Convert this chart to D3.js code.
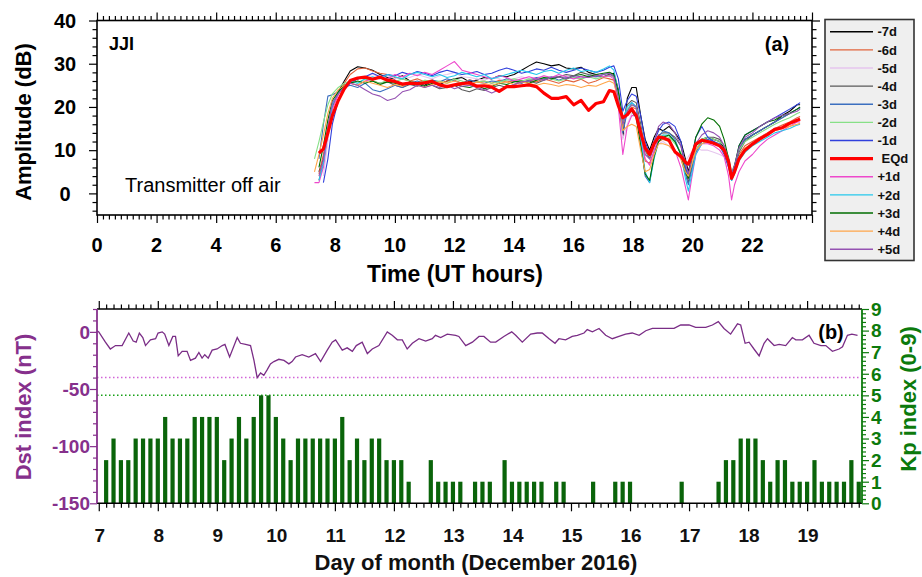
<!DOCTYPE html>
<html>
<head>
<meta charset="utf-8">
<script src="https://cdn.jsdelivr.net/npm/d3@7"></script>
<style>
  body { margin: 0; background: #fff; }
  svg { display: block; }
  text { font-family: "Liberation Sans", Arial, Helvetica, sans-serif; }
</style>
</head>
<body>
<svg id="chart" width="922" height="577"></svg>
<script>
// ---------- Panel (a): JJI VLF amplitude, UT hours ----------
const hourGrid = [
  7.3, 7.45, 7.6, 7.75, 7.9, 8.1, 8.3,
  8.5, 8.75, 9.0, 9.25, 9.5, 9.75, 10.0, 10.25, 10.5, 10.75, 11.0, 11.25, 11.5, 11.75,
  12.0, 12.25, 12.5, 12.75, 13.0, 13.25, 13.5, 13.75, 14.0, 14.25, 14.5, 14.75,
  15.0, 15.25, 15.5, 15.75, 16.0, 16.25, 16.5, 16.75, 17.0,
  17.2, 17.35, 17.5, 17.65, 17.8, 17.95, 18.1, 18.25, 18.4, 18.55, 18.7, 18.85,
  19.0, 19.2, 19.4, 19.6, 19.75, 19.85, 19.95, 20.1, 20.3, 20.5, 20.7, 20.9,
  21.05, 21.2, 21.3, 21.4, 21.55, 21.75, 22.0, 22.25, 22.5, 22.75, 23.0, 23.25, 23.5, 23.6
];

const ampM7d = [
  null, 5.0, 8.0, 14.5, 20.0, 23.5, 26.0,
  28.3, 29.3, 29.0, 28.5, 27.5, 26.8, 26.5, 27.2, 26.0, 25.5, 25.0, 26.0, 25.2, 26.0, 26.5, 26.8, 25.8, 26.2, 26.8, 26.5,
  27.2, 27.0, 27.5, 28.5, 29.5, 30.4, 30.0, 29.5, 29.8, 29.0, 28.8, 29.2, 28.0, 27.5, 27.0,
  27.5, 27.8, 24.0, 13.0, 22.0, 24.5, 24.5, 18.0, 12.5, 10.0, 13.0, 15.0, 14.5, 15.5, 14.0, 12.0, 8.0, 5.0, 8.0, 11.0,
  12.5, 13.0, 12.5, 12.0, 10.5, 8.0, 4.5, 6.0, 10.0, 12.5, 13.5, 14.5, 15.5, 16.5, 18.0, 19.0, 20.5, 20.5
];
const ampM6d = [
  null, 4.5, 9.0, 15.5, 20.5, 23.0, 25.5,
  27.5, 28.8, 29.0, 28.3, 27.8, 27.5, 26.8, 26.5, 26.0, 26.5, 25.8, 26.3, 25.5, 26.0, 26.2, 25.5, 26.3, 25.8, 26.0, 25.5,
  26.2, 25.8, 26.0, 25.5, 26.3, 25.8, 26.5, 26.0, 25.5, 26.2, 25.8, 26.4, 25.5, 26.0, 26.8,
  26.5, 26.2, 22.0, 15.5, 18.5, 20.0, 19.5, 14.0, 7.5, 7.0, 10.0, 12.0, 12.5, 12.0, 10.0, 8.0, 4.5, 3.5, 6.0, 9.5,
  11.5, 12.0, 11.5, 11.0, 10.0, 7.5, 4.0, 5.5, 9.0, 11.0, 12.0, 13.0, 14.0, 15.0, 15.8, 16.5, 17.5, 17.8
];
const ampM5d = [
  null, null, 4.0, 12.0, 19.5, 23.0, 24.5,
  25.5, 26.5, 27.0, 27.5, 27.0, 27.3, 26.5, 27.0, 26.8, 27.5, 27.0, 26.5, 27.2, 27.5, 28.0, 27.0, 26.8, 26.5, 26.2, 26.8,
  26.5, 26.0, 26.5, 27.0, 26.5, 26.8, 27.2, 26.5, 26.8, 27.2, 27.0, 26.6, 27.0, 26.8, 27.2,
  27.0, 27.5, 23.0, 12.5, 16.0, 18.5, 18.0, 13.5, 9.5, 8.0, 10.0, 11.5, 12.0, 11.0, 9.5, 8.0, 7.5, 8.5, 9.5, 10.5,
  10.0, 10.0, 9.5, 9.0, 8.5, 7.5, 5.0, 6.5, 8.5, 10.0, 11.5, 12.5, 13.5, 14.5, 15.0, 16.0, 16.5, 16.8
];
const ampM4d = [
  null, 3.0, 7.0, 14.0, 20.0, 23.0, 25.0,
  26.0, 26.5, 27.0, 26.0, 25.5, 25.8, 25.0, 24.5, 25.2, 24.8, 25.5, 25.0, 24.2, 24.5, 25.0, 24.0, 23.5, 24.2, 23.8, 24.5,
  25.0, 24.5, 25.2, 25.8, 26.0, 25.5, 26.2, 26.8, 27.0, 27.5, 27.2, 28.0, 27.5, 27.2, 27.0,
  27.5, 27.2, 22.5, 16.5, 20.5, 21.5, 21.0, 16.0, 10.0, 8.0, 11.0, 13.5, 14.0, 14.0, 13.0, 11.0, 6.0, 2.5, 5.5, 10.0,
  12.0, 13.0, 13.0, 12.5, 11.0, 7.5, 3.0, 5.0, 9.5, 12.0, 13.5, 14.5, 15.5, 16.5, 17.5, 18.5, 19.5, 19.8
];
const ampM3d = [
  null, 8.0, 16.0, 22.5, 22.8, 23.5, 24.5,
  25.0, 24.5, 25.5, 24.0, 23.5, 24.2, 25.0, 24.5, 25.5, 26.0, 25.5, 26.2, 25.8, 26.5, 26.0, 25.5, 26.2, 25.8, 25.5, 26.0,
  25.8, 26.5, 26.0, 25.5, 26.2, 26.8, 26.5, 27.0, 26.2, 26.8, 27.0, 26.5, 27.2, 27.0, 27.5,
  27.8, 27.0, 21.0, 14.0, 19.0, 21.0, 20.0, 12.0, 4.0, 2.5, 9.0, 13.0, 14.5, 14.0, 12.5, 9.0, 4.5, 2.0, 5.0, 9.5,
  12.0, 12.5, 12.0, 11.5, 10.0, 7.0, 3.0, 5.5, 10.0, 12.5, 13.5, 14.5, 15.5, 16.5, 17.5, 18.5, 19.5, 19.8
];
const ampM2d = [
  8.0, 12.0, 16.5, 20.5, 23.0, 24.5, 25.5,
  26.0, 25.5, 26.5, 26.0, 25.5, 26.2, 25.8, 26.5, 26.0, 25.5, 26.2, 25.8, 26.0, 25.5, 26.5, 26.0, 25.2, 25.8, 26.0, 25.5,
  25.8, 26.2, 26.5, 26.0, 26.5, 26.2, 26.8, 26.5, 26.0, 26.5, 26.8, 26.5, 27.0, 26.5, 27.0,
  27.2, 27.0, 22.5, 16.0, 19.5, 20.5, 20.0, 15.0, 10.0, 8.5, 11.0, 13.0, 13.5, 13.0, 11.5, 9.5, 6.0, 4.0, 6.5, 10.0,
  12.5, 13.0, 12.5, 12.0, 11.0, 8.5, 5.0, 6.5, 10.0, 12.0, 13.0, 14.0, 15.0, 16.0, 16.8, 17.5, 18.5, 18.8
];
const ampM1d = [
  null, null, 2.5, 8.0, 16.0, 21.5, 24.0,
  25.5, 26.5, 27.0, 27.8, 27.0, 27.5, 27.2, 28.0, 27.5, 28.2, 27.8, 27.2, 28.0, 28.5, 28.0, 27.5, 27.8, 28.2, 27.5, 27.8,
  28.5, 29.0, 28.5, 27.8, 28.2, 28.8, 28.5, 29.2, 28.5, 28.0, 28.5, 29.0, 28.5, 28.0, 28.5,
  29.2, 29.5, 26.5, 19.0, 21.5, 23.0, 22.5, 18.0, 12.0, 9.0, 12.0, 14.5, 16.0, 16.5, 15.5, 12.0, 6.0, 4.0, 8.0, 13.0,
  15.5, 13.0, 12.0, 11.0, 9.0, 6.0, 3.0, 6.0, 11.0, 13.5, 14.5, 15.5, 16.5, 17.5, 18.5, 19.5, 20.5, 21.0
];
const ampEQd = [
  null, 9.3, 10.3, 14.0, 18.0, 21.5, 24.2,
  26.1, 26.7, 26.9, 26.4, 26.9, 26.2, 25.9, 25.3, 25.5, 25.4, 25.6, 25.9, 25.1, 24.7, 25.1, 25.4, 25.6, 24.8, 24.9, 24.6,
  23.6, 24.7, 24.7, 24.9, 25.1, 24.7, 23.2, 22.0, 22.0, 22.4, 20.5, 21.5, 19.2, 20.8, 21.2,
  23.8, 23.5, 20.3, 17.5, 18.2, 19.5, 18.0, 14.0, 10.5, 9.0, 11.5, 13.0, 12.9, 12.3, 9.6, 8.6, 7.2, 6.8, 8.5, 11.4,
  12.3, 12.0, 11.6, 11.0, 10.0, 7.3, 3.5, 5.0, 8.0, 10.0, 11.4, 12.6, 13.6, 14.8, 15.2, 16.2, 16.9, 17.2
];
const ampP1d = [
  2.5, 2.5, 6.0, 14.0, 19.5, 23.0, 24.5,
  25.5, 25.0, 26.0, 26.5, 27.0, 26.5, 27.5, 27.0, 27.8, 27.2, 28.0, 27.5, 28.5, 29.5, 30.5, 28.5, 28.0, 27.5, 27.0, 26.5,
  27.2, 26.8, 26.0, 26.5, 27.0, 26.5, 27.2, 26.8, 27.5, 27.0, 26.5, 27.0, 26.8, 27.5, 27.0,
  27.2, 26.5, 20.0, 9.0, 15.5, 18.0, 18.0, 13.0, 8.0, 6.5, 10.0, 12.5, 13.0, 12.5, 10.0, 6.0, 1.5, -1.5, 3.0, 9.0,
  11.5, 11.5, 11.0, 10.0, 8.5, 4.0, -1.5, 2.0, 5.0, 7.5, 9.0, 11.0, 12.5, 13.5, 14.5, 15.5, 16.5, 16.5
];
const ampP2d = [
  null, 3.0, 7.0, 14.5, 20.5, 23.5, 25.0,
  26.0, 25.5, 26.5, 27.0, 26.5, 27.5, 27.0, 26.5, 27.5, 28.0, 27.5, 27.0, 27.5, 26.8, 27.2, 28.0, 27.5, 27.0, 27.5, 26.5,
  27.0, 27.5, 28.0, 28.5, 28.0, 27.5, 28.2, 28.5, 27.8, 28.5, 29.0, 28.2, 28.5, 28.0, 28.8,
  29.5, 28.5, 23.5, 17.0, 20.0, 21.0, 20.0, 13.0, 5.0, 2.5, 8.0, 12.0, 13.5, 13.5, 12.0, 9.0, 3.5, 0.5, 4.0, 9.0,
  11.5, 12.0, 11.5, 11.0, 9.5, 6.5, 3.0, 4.5, 7.5, 9.5, 11.0, 12.0, 13.0, 14.0, 14.5, 15.0, 15.8, 16.0
];
const ampP3d = [
  null, 6.0, 11.0, 17.0, 21.5, 23.5, 25.0,
  25.5, 26.0, 25.5, 26.0, 25.2, 25.8, 25.5, 25.0, 25.8, 25.2, 24.8, 25.5, 25.0, 24.5, 25.2, 24.8, 24.5, 25.0, 24.2, 24.8,
  25.5, 25.2, 25.8, 26.0, 25.5, 26.2, 26.8, 26.5, 27.0, 26.5, 27.2, 27.5, 27.0, 27.5, 27.8,
  28.0, 27.5, 23.5, 17.5, 18.5, 19.0, 17.5, 11.0, 4.5, 3.0, 8.5, 12.0, 13.0, 13.5, 12.0, 9.0, 5.0, 3.5, 7.5, 13.0,
  16.0, 17.5, 17.0, 15.5, 12.5, 8.0, 4.0, 6.5, 11.0, 13.5, 14.5, 15.5, 16.5, 17.0, 18.0, 18.5, 19.5, 20.0
];
const ampP4d = [
  5.0, 9.0, 13.5, 18.5, 22.0, 24.0, 25.0,
  25.5, 25.0, 26.0, 25.5, 25.0, 24.5, 25.2, 24.8, 25.5, 25.0, 24.5, 25.2, 25.8, 25.5, 26.0, 25.5, 25.2, 25.8, 25.5, 25.0,
  25.5, 25.8, 25.2, 25.8, 25.5, 25.0, 25.5, 25.2, 24.8, 25.2, 25.0, 24.5, 25.0, 24.8, 25.5,
  26.0, 25.5, 22.0, 14.5, 15.5, 16.0, 15.5, 10.0, 5.0, 5.5, 9.0, 11.5, 11.5, 11.0, 9.5, 8.0, 5.0, 4.0, 6.5, 10.0,
  11.5, 12.0, 11.5, 11.0, 10.0, 7.0, 3.5, 5.0, 8.5, 10.5, 11.5, 12.5, 13.5, 14.5, 15.0, 15.5, 16.0, 16.2
];
const ampP5d = [
  null, 4.0, 8.0, 15.5, 21.0, 23.0, 24.5,
  25.5, 25.0, 24.0, 23.0, 22.5, 21.5, 22.0, 23.5, 24.0, 25.0, 24.5, 25.0, 24.5, 25.0, 24.2, 24.8, 25.0, 24.5, 24.0, 23.2,
  24.0, 24.5, 25.2, 25.8, 26.0, 26.5, 26.2, 26.8, 27.0, 26.5, 27.2, 27.0, 26.8, 27.2, 27.5,
  27.8, 27.0, 22.0, 16.0, 19.0, 20.5, 20.0, 14.5, 9.0, 8.0, 12.0, 15.5, 16.5, 16.0, 14.0, 11.0, 7.0, 4.5, 7.5, 11.5,
  13.5, 14.5, 14.0, 13.0, 11.0, 8.0, 4.5, 6.5, 10.5, 13.0, 14.0, 15.5, 16.5, 17.5, 18.0, 18.5, 19.0, 19.5
];

const seriesLabels = ["-7d", "-6d", "-5d", "-4d", "-3d", "-2d", "-1d", "EQd", "+1d", "+2d", "+3d", "+4d", "+5d"];
const seriesColors = ["#000000", "#e2643c", "#e6c6ee", "#5a5a5a", "#3b6fbf", "#86e086", "#2f3fdc",
                      "#ff0000", "#ee48cc", "#26c8ec", "#006e00", "#ffa64a", "#9552b2"];
const seriesValues = [ampM7d, ampM6d, ampM5d, ampM4d, ampM3d, ampM2d, ampM1d,
                      ampEQd, ampP1d, ampP2d, ampP3d, ampP4d, ampP5d];

const hourTicks = [0, 2, 4, 6, 8, 10, 12, 14, 16, 18, 20, 22];
const ampTicks = [0, 10, 20, 30, 40];

// ---------- Panel (b): Dst and Kp, 7-19 December 2016 ----------
// Dst: hours counted from 00 UT on 7 December
const dstHour = [
  -0.7, 0.0, 2.7, 4.7, 6.8, 9.5, 12.2, 14.0, 15.2, 16.5, 17.9, 19.0, 21.0, 23.1, 24.1, 25.8, 26.8, 28.5, 30.1, 31.2,
  32.3, 33.9, 35.9, 37.3, 39.3, 40.7, 42.0, 43.1, 44.5, 46.1, 48.1, 50.2, 51.3, 53.2, 56.3, 57.6, 59.7, 61.7, 63.1, 64.4,
  65.8, 67.1, 68.5, 69.8, 71.2, 73.2, 75.3, 77.3, 78.6, 80.0, 82.7, 85.4, 88.1, 90.2, 92.9, 94.9, 96.3, 99.0, 101.0, 103.1,
  104.7, 107.1, 109.2, 111.2, 113.9, 117.3, 119.3, 121.4, 123.4, 125.4, 127.5, 130.2, 132.9, 135.6, 136.9, 139.0, 141.7, 145.1, 146.4, 149.2,
  151.9, 154.6, 156.6, 159.3, 161.4, 164.7, 167.9, 169.5, 172.2, 175.6, 178.3, 180.3, 183.1, 185.5, 187.1, 189.8, 192.5, 194.6, 197.3, 198.6,
  200.7, 203.4, 206.1, 208.8, 211.5, 214.2, 216.9, 219.7, 222.4, 225.1, 227.8, 230.5, 233.9, 236.6, 240.0, 242.7, 246.8, 249.5, 251.9, 254.2,
  256.9, 259.7, 261.0, 262.8, 264.4, 266.4, 268.5, 270.5, 271.9, 274.6, 276.6, 279.3, 282.0, 283.4, 286.1, 288.8, 290.8, 293.6, 295.6, 298.3,
  301.0, 302.4, 304.4, 306.2, 308.5
];
const dstValue = [
  1, 0, -9, -15, -12, -12, -1, -8, -9, -1, -5, -12, -7, -6, -1, 0, -2, -12, -4, -4,
  -21, -17, -17, -25, -23, -18, -23, -20, -23, -16, -15, -12, -11, -22, -5, -10, -11, -12, -25, -40,
  -36, -38, -33, -28, -26, -24, -25, -28, -26, -22, -20, -22, -19, -26, -16, -9, -7, -16, -14, -17,
  -12, -9, -19, -15, -12, 0, -3, -7, -7, -15, -10, -6, -8, -6, -3, -5, -2, -3, -4, -12,
  -9, -4, -4, -9, -9, -4, 0, -3, -9, -2, -1, -1, -6, -10, -6, -7, -4, -3, -1, 2,
  0, 3, -3, -6, -4, -2, -1, -3, 1, 3, 3, 3, 3, 6, 6, 4, 4, 6, 9, 3,
  -2, 7, 6, -10, -9, -15, -21, -10, -6, -12, -11, -12, -5, -7, -7, -3, -10, -12, -12, -17,
  -15, -13, -3, -2, -3
];
// Kp: 3-hourly values from 00 UT on 7 December
const kpValues = [
  2, 3, 2, 2, 3, 3, 3, 3,   4, 3, 3, 3, 4, 4, 4, 4,   2, 3, 4, 3, 4, 5, 5, 4,
  3, 2, 3, 3, 3, 3, 3, 3,   4, 2, 3, 2, 3, 3, 2, 2,   2, 1, 0, 0, 2, 1, 1, 1,
  1, 0, 1, 1, 1, 0, 2, 1,   1, 1, 1, 1, 0, 1, 1, 0,   0, 0, 1, 0, 0, 1, 1, 1,
  0, 0, 0, 0, 0, 0, 1, 0,   0, 0, 0, 1, 2, 2, 3, 3,   3, 2, 1, 2, 2, 1, 1, 1,
  2, 1, 1, 1, 1, 2, 1
];
const dayTicks = [7, 8, 9, 10, 11, 12, 13, 14, 15, 16, 17, 18, 19];
const dstTicks = [-150, -100, -50, 0];
const kpTicks = [0, 1, 2, 3, 4, 5, 6, 7, 8, 9];
const dstThreshold = -40;
const kpThreshold = 5;

// ---------- Drawing ----------
const svg = d3.select("#chart");
const DST_COLOR = "#86308c";
const DST_LINE = "#7a2d86";
const KP_COLOR = "#0c7a0c";
const BAR_COLOR = "#0a640a";

const xA = d3.scaleLinear().domain([0, 24]).range([97, 812]);
const yA = d3.scaleLinear().domain([-5, 40]).range([215, 20.5]);
const xD = d3.scaleLinear().domain([6.97, 19.93]).range([97, 862]);
const yDst = d3.scaleLinear().domain([-150, 20]).range([503.3, 309]);
const yKp = d3.scaleLinear().domain([0, 9]).range([503.3, 309]);

function tickRow(sel, axisGen, values, size, color) {
  sel.call(axisGen.tickValues(values).tickSize(size).tickSizeOuter(0).tickFormat(""));
  sel.select(".domain").remove();
  sel.selectAll(".tick line").attr("stroke", color).attr("stroke-width", 1.2);
}
function range(a, b, step) {
  const out = [];
  const n = Math.round((b - a) / step);
  for (let i = 0; i <= n; i++) out.push(+(a + i * step).toFixed(4));
  return out;
}
function without(list, majors) {
  return list.filter(v => !majors.some(m => Math.abs(m - v) < 1e-6));
}

// ----- panel (a) -----
const pa = svg.append("g");
svg.append("defs").append("clipPath").attr("id", "clipA")
  .append("rect").attr("x", xA(0)).attr("y", yA(40)).attr("width", xA(24) - xA(0)).attr("height", yA(-5) - yA(40));

const hourMajor = hourTicks.concat([24]);
const hourMinor = without(range(0, 24, 0.2), hourMajor);
const ampMajor = ampTicks;
const ampMinor = without(range(-4, 38, 2), ampMajor);

tickRow(pa.append("g").attr("transform", `translate(0,${yA(-5)})`), d3.axisBottom(xA), hourMinor, 4.5, "#000");
tickRow(pa.append("g").attr("transform", `translate(0,${yA(-5)})`), d3.axisBottom(xA), hourMajor, 8, "#000");
tickRow(pa.append("g").attr("transform", `translate(0,${yA(40)})`), d3.axisTop(xA), hourMinor, 4.5, "#000");
tickRow(pa.append("g").attr("transform", `translate(0,${yA(40)})`), d3.axisTop(xA), hourMajor, 8, "#000");
tickRow(pa.append("g").attr("transform", `translate(${xA(0)},0)`), d3.axisLeft(yA), ampMinor, 4.5, "#000");
tickRow(pa.append("g").attr("transform", `translate(${xA(0)},0)`), d3.axisLeft(yA), ampMajor, 8, "#000");
tickRow(pa.append("g").attr("transform", `translate(${xA(24)},0)`), d3.axisRight(yA), ampMinor, 4.5, "#000");
tickRow(pa.append("g").attr("transform", `translate(${xA(24)},0)`), d3.axisRight(yA), ampMajor, 8, "#000");

// amplitude curves
const lineA = d3.line()
  .defined(d => d[1] !== null)
  .x(d => xA(d[0])).y(d => yA(d[1]));
const curves = pa.append("g").attr("clip-path", "url(#clipA)");
const order = [0, 1, 2, 3, 4, 5, 6, 8, 9, 10, 11, 12, 7];
order.forEach(i => {
  const pts = hourGrid.map((h, k) => [h, seriesValues[i][k] === undefined ? null : seriesValues[i][k]]);
  curves.append("path")
    .attr("d", lineA(pts))
    .attr("fill", "none")
    .attr("stroke", seriesColors[i])
    .attr("stroke-width", seriesLabels[i] === "EQd" ? 3.2 : 1.1)
    .attr("stroke-linejoin", "round");
});

pa.append("rect")
  .attr("x", xA(0)).attr("y", yA(40))
  .attr("width", xA(24) - xA(0)).attr("height", yA(-5) - yA(40))
  .attr("fill", "none").attr("stroke", "#000").attr("stroke-width", 1.6);

pa.selectAll("text.xl").data(hourTicks).join("text")
  .attr("x", d => xA(d)).attr("y", 252)
  .attr("text-anchor", "middle").attr("font-size", 20).attr("font-weight", "bold")
  .text(d => d);
pa.selectAll("text.yl").data(ampTicks).join("text")
  .attr("x", 65).attr("y", d => yA(d)).attr("dy", "0.36em")
  .attr("text-anchor", "middle").attr("font-size", 20).attr("font-weight", "bold")
  .text(d => d);

pa.append("text").attr("x", 455).attr("y", 282).attr("text-anchor", "middle")
  .attr("font-size", 23).attr("font-weight", "bold").text("Time (UT hours)");
pa.append("text").attr("transform", "translate(31,122) rotate(-90)").attr("text-anchor", "middle")
  .attr("font-size", 22).attr("font-weight", "bold").text("Amplitude (dB)");
pa.append("text").attr("x", 109).attr("y", 50).attr("font-size", 18).attr("font-weight", "bold").text("JJI");
pa.append("text").attr("x", 777).attr("y", 51).attr("text-anchor", "middle")
  .attr("font-size", 20).attr("font-weight", "bold").text("(a)");
pa.append("text").attr("x", 125).attr("y", 192).attr("font-size", 20).text("Transmitter off air");

// legend
const lg = svg.append("g");
lg.append("rect").attr("x", 825).attr("y", 19.5).attr("width", 89).attr("height", 241)
  .attr("fill", "#efefef").attr("stroke", "#333").attr("stroke-width", 1.6);
seriesLabels.forEach((lab, i) => {
  const y = 31.7 + i * 18.13;
  lg.append("line").attr("x1", 830).attr("x2", 873).attr("y1", y).attr("y2", y)
    .attr("stroke", seriesColors[i]).attr("stroke-width", lab === "EQd" ? 3.2 : 1.4);
  lg.append("text").attr("x", lab === "EQd" ? 881.5 : 877.5).attr("y", y).attr("dy", "0.36em")
    .attr("font-size", 13).attr("font-weight", "bold").attr("fill", "#111").text(lab);
});

// ----- panel (b) -----
const pb = svg.append("g");
const dayMajor = dayTicks;
const dayMinor = without(range(7, 19.875, 0.125), dayMajor);
const dstMinor = without(range(-150, 20, 10), dstTicks);
const kpMinor = without(range(0, 9, 0.2), kpTicks);

tickRow(pb.append("g").attr("transform", `translate(0,${yDst(-150)})`), d3.axisBottom(xD), dayMinor, 4.5, "#000");
tickRow(pb.append("g").attr("transform", `translate(0,${yDst(-150)})`), d3.axisBottom(xD), dayMajor, 8, "#000");
tickRow(pb.append("g").attr("transform", `translate(0,${yDst(20)})`), d3.axisTop(xD), dayMinor, 4.5, "#000");
tickRow(pb.append("g").attr("transform", `translate(0,${yDst(20)})`), d3.axisTop(xD), dayMajor, 8, "#000");
tickRow(pb.append("g").attr("transform", `translate(${xD.range()[0]},0)`), d3.axisLeft(yDst), dstMinor, 4, DST_COLOR);
tickRow(pb.append("g").attr("transform", `translate(${xD.range()[0]},0)`), d3.axisLeft(yDst), dstTicks, 7, DST_COLOR);
tickRow(pb.append("g").attr("transform", `translate(${xD.range()[1]},0)`), d3.axisRight(yKp), kpMinor, 4, KP_COLOR);
tickRow(pb.append("g").attr("transform", `translate(${xD.range()[1]},0)`), d3.axisRight(yKp), kpTicks, 7, KP_COLOR);

// threshold lines
pb.append("line").attr("x1", xD.range()[0]).attr("x2", xD.range()[1])
  .attr("y1", yDst(dstThreshold)).attr("y2", yDst(dstThreshold))
  .attr("stroke", "#d264d8").attr("stroke-width", 1.5).attr("stroke-dasharray", "1.5,2.5");
pb.append("line").attr("x1", xD.range()[0]).attr("x2", xD.range()[1])
  .attr("y1", yKp(kpThreshold)).attr("y2", yKp(kpThreshold))
  .attr("stroke", "#16a016").attr("stroke-width", 1.5).attr("stroke-dasharray", "1.5,2.5");

// Kp bars, each drawn at the end of its 3-hour interval
const kpData = kpValues.map((v, i) => ({ day: 7 + (i + 1) / 8, kp: v })).filter(d => d.kp > 0);
pb.append("g").selectAll("rect").data(kpData).join("rect")
  .attr("x", d => xD(d.day) - 2.1).attr("width", 4.2)
  .attr("y", d => yKp(d.kp)).attr("height", d => yKp(0) - yKp(d.kp))
  .attr("fill", BAR_COLOR);

// Dst curve
const dstPts = dstHour.map((h, i) => [7 + h / 24, dstValue[i]]);
pb.append("path")
  .attr("d", d3.line().x(d => xD(d[0])).y(d => yDst(d[1]))(dstPts))
  .attr("fill", "none").attr("stroke", DST_LINE).attr("stroke-width", 1.3);

// frame
pb.append("line").attr("x1", xD.range()[0]).attr("x2", xD.range()[1]).attr("y1", yDst(20)).attr("y2", yDst(20))
  .attr("stroke", "#000").attr("stroke-width", 1.6);
pb.append("line").attr("x1", xD.range()[0]).attr("x2", xD.range()[1]).attr("y1", yDst(-150)).attr("y2", yDst(-150))
  .attr("stroke", "#000").attr("stroke-width", 1.6);
pb.append("line").attr("x1", xD.range()[0]).attr("x2", xD.range()[0]).attr("y1", yDst(20)).attr("y2", yDst(-150))
  .attr("stroke", DST_COLOR).attr("stroke-width", 1.8);
pb.append("line").attr("x1", xD.range()[1]).attr("x2", xD.range()[1]).attr("y1", yKp(9)).attr("y2", yKp(0))
  .attr("stroke", KP_COLOR).attr("stroke-width", 1.8);

pb.selectAll("text.dl").data(dayTicks).join("text")
  .attr("x", d => xD(d) + 1).attr("y", 541.5)
  .attr("text-anchor", "middle").attr("font-size", 19).attr("font-weight", "bold").attr("fill", "#111")
  .text(d => d);
pb.selectAll("text.sl").data(dstTicks).join("text")
  .attr("x", 90).attr("y", d => yDst(d)).attr("dy", "0.36em")
  .attr("text-anchor", "end").attr("font-size", 19).attr("font-weight", "bold").attr("fill", DST_COLOR)
  .text(d => d);
pb.selectAll("text.kl").data(kpTicks).join("text")
  .attr("x", 871).attr("y", d => yKp(d)).attr("dy", "0.36em")
  .attr("text-anchor", "start").attr("font-size", 19).attr("font-weight", "bold").attr("fill", KP_COLOR)
  .text(d => d);

pb.append("text").attr("x", 476).attr("y", 570).attr("text-anchor", "middle")
  .attr("font-size", 22).attr("font-weight", "bold").attr("fill", "#111").text("Day of month (December 2016)");
pb.append("text").attr("transform", "translate(31,407) rotate(-90)").attr("text-anchor", "middle")
  .attr("font-size", 22).attr("font-weight", "bold").attr("fill", DST_COLOR).text("Dst index (nT)");
pb.append("text").attr("transform", "translate(916,399) rotate(-90)").attr("text-anchor", "middle")
  .attr("font-size", 22).attr("font-weight", "bold").attr("fill", KP_COLOR).text("Kp index (0-9)");
pb.append("text").attr("x", 831).attr("y", 339).attr("text-anchor", "middle")
  .attr("font-size", 20).attr("font-weight", "bold").text("(b)");
</script>
</body>
</html>
